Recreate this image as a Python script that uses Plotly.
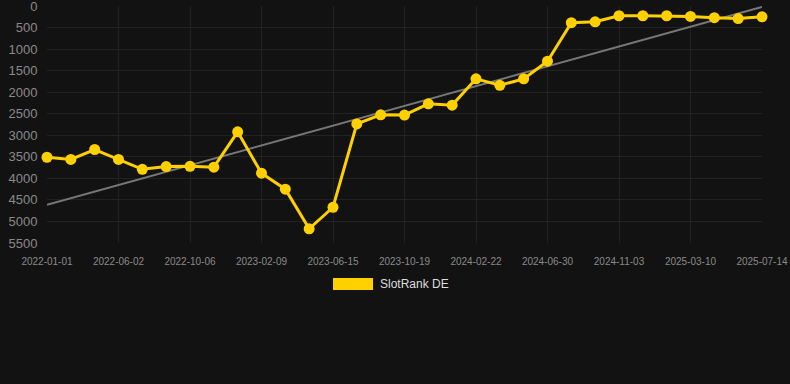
import plotly.graph_objects as go

dates = ["2022-01-01", "2022-02-21", "2022-04-12", "2022-06-02", "2022-07-14", "2022-08-25",
         "2022-10-06", "2022-11-17", "2022-12-29", "2023-02-09", "2023-03-23", "2023-05-04",
         "2023-06-15", "2023-07-27", "2023-09-07", "2023-10-19", "2023-11-30", "2024-01-11",
         "2024-02-22", "2024-04-05", "2024-05-18", "2024-06-30", "2024-08-11", "2024-09-22",
         "2024-11-03", "2024-12-15", "2025-01-26", "2025-03-10", "2025-04-21", "2025-06-02",
         "2025-07-14"]
ranks = [3510, 3560, 3330, 3560, 3790, 3725, 3720, 3740, 2920, 3880, 4250, 5170,
         4670, 2735, 2525, 2530, 2270, 2300, 1690, 1840, 1690, 1280, 385, 365,
         225, 225, 225, 240, 270, 290, 250]
tick_labels = ["2022-01-01", "2022-06-02", "2022-10-06", "2023-02-09", "2023-06-15", "2023-10-19",
               "2024-02-22", "2024-06-30", "2024-11-03", "2025-03-10", "2025-07-14"]
trend_x = ["2022-01-01", "2025-07-14"]
trend_y = [4615, 20]
y_ticks = [0, 500, 1000, 1500, 2000, 2500, 3000, 3500, 4000, 4500, 5000, 5500]

fig = go.Figure()
fig.add_trace(go.Scatter(x=trend_x, y=trend_y, mode="lines", cliponaxis=False,
                         line=dict(color="#777777", width=2), showlegend=False, hoverinfo="skip"))
fig.add_trace(go.Scatter(x=dates, y=ranks, mode="lines+markers", name="SlotRank DE",
                         cliponaxis=False,
                         line=dict(color="#FFD000", width=3),
                         marker=dict(color="#FFD000", size=11), showlegend=False))

fig.update_layout(
    width=790, height=384,
    paper_bgcolor="#121212", plot_bgcolor="#121212",
    margin=dict(l=47, r=28, t=6, b=141, autoexpand=False),
    font=dict(family="Liberation Sans, Arial, sans-serif", color="#8a8a8a"),
    xaxis=dict(type="category", categoryorder="array", categoryarray=dates,
               range=[0, len(dates) - 1], automargin=False,
               tickvals=tick_labels, ticktext=tick_labels,
               showgrid=True, gridcolor="#222222", gridwidth=1,
               zeroline=False, showline=False, tickangle=0,
               tickfont=dict(size=10, color="#8a8a8a"),
               ticks="outside", ticklen=9, tickcolor="rgba(0,0,0,0)",
               ticklabeloverflow="allow"),
    yaxis=dict(range=[5500, -1], tickvals=y_ticks, automargin=False,
               showgrid=True, gridcolor="#222222", gridwidth=1,
               zeroline=False, showline=False,
               tickfont=dict(size=13, color="#8a8a8a"),
               ticks="outside", ticklen=6, tickcolor="rgba(0,0,0,0)",
               ticklabeloverflow="allow"),
    shapes=[dict(type="rect", xref="paper", yref="paper",
                 x0=0.4, x1=0.456, y0=-0.198, y1=-0.148,
                 fillcolor="#FFD000", line=dict(width=0))],
    annotations=[dict(text="SlotRank DE", xref="paper", yref="paper",
                      x=0.463, y=-0.173, xanchor="left", yanchor="middle",
                      showarrow=False, font=dict(size=12, color="#dddddd"))],
)

fig.write_html("out.html", config={"displayModeBar": False},
               post_script="document.body.style.margin='0';document.body.style.background='#121212';")
